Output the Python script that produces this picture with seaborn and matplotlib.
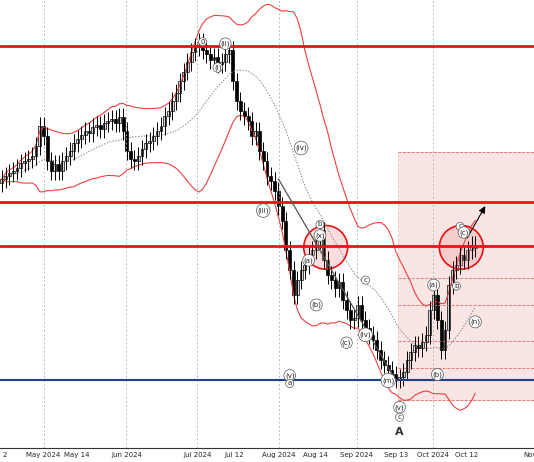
import numpy as np
import pandas as pd
import matplotlib
matplotlib.use("Agg")
import matplotlib.pyplot as plt
from matplotlib.patches import Ellipse, Rectangle
import seaborn as sns

sns.set_style("white")

# === Data (price units) ===
closes = [282, 285, 288, 290, 293, 298, 300, 302,
          305, 315, 335, 325, 300, 290, 297,
          290, 300, 305, 310, 318, 322,
          326, 330, 328, 334, 336, 332,
          338, 340, 342, 338, 344, 330,
          310, 302, 300, 305, 312,
          318, 320, 325, 330, 335, 345,
          350, 360, 368, 380, 390, 400,
          410, 415, 420, 412, 408, 402,
          405, 398, 400, 408, 412,
          380, 360, 350, 345, 340,
          325, 330, 310, 300, 285,
          280, 270, 255, 240, 210,
          190, 165, 180, 190,
          195, 205, 210, 220, 230,
          200, 185, 180, 172, 178,
          160, 150, 140, 142, 155,
          140, 132, 125, 120, 110,
          100, 95, 90, 85, 80,
          82, 88, 100, 108,
          115, 112, 118, 125,
          150, 165, 140, 110,
          130, 175, 190, 195, 205,
          200, 210, 215, 212]
first_open = 278
tick_pos = [0.8, 11, 19.7, 32.9, 51.6, 61.3, 73.2, 82.9, 93.7, 104, 113.7, 122.6, 139.5]
tick_labels = ["2", "May 2024", "May 14", "Jun 2024", "Jul 2024", "Jul 12", "Aug 2024",
               "Aug 14", "Sep 2024", "Sep 13", "Oct 2024", "Oct 12", "Nov"]
month_pos = [11, 32.9, 51.6, 73.2, 93.7, 113.7]
red_levels = [416, 259, 214]
blue_level = 79
zone_levels = [309, 259, 214, 182, 155, 119, 92, 59]

df = pd.DataFrame({"close": closes})
df["i"] = np.arange(len(df))
df["open"] = [first_open] + closes[:-1]
df["mid"] = df["close"].rolling(20, min_periods=1).mean()
sd = df["close"].rolling(20, min_periods=2).std().fillna(0)
df["upper"] = df["mid"] + 2 * sd
df["lower"] = df["mid"] - 2 * sd

fig = plt.figure(figsize=(5.34, 4.62), dpi=100)
bot = 14 / 462
ax = fig.add_axes([0, bot, 1, 1 - bot])

# zone
ax.add_patch(Rectangle((104.5, 59), 40, 250, facecolor="#f4c7c7", alpha=0.45, edgecolor="#e08080", lw=0.6, ls="--"))
for lv in zone_levels:
    ax.plot([104.5, 145], [lv, lv], color="#e07070", lw=0.6, ls="--")

for m in month_pos:
    ax.axvline(m, color="#aaaaaa", lw=0.6, ls=(0, (2, 3)))

# bands
sns.lineplot(data=df, x="i", y="upper", ax=ax, color="#f04040", lw=0.8)
sns.lineplot(data=df, x="i", y="lower", ax=ax, color="#f04040", lw=0.8)
sns.lineplot(data=df, x="i", y="mid", ax=ax, color="#888888", lw=0.7, ls=(0, (1.5, 1.5)))

# candles
for _, r in df.iterrows():
    lo, hi = min(r.open, r.close), max(r.open, r.close)
    ax.vlines(r.i, lo - 9, hi + 9, color="black", lw=0.7)
    up = r.close >= r.open
    ax.add_patch(Rectangle((r.i - 0.38, lo), 0.76, max(hi - lo, 1.2),
                           facecolor="#d8d8d8" if up else "black", edgecolor="black", lw=0.5))

for lv in red_levels:
    ax.axhline(lv, color="#ee1111", lw=2)
ax.axhline(blue_level, color="#1f3f8f", lw=1.5)

# trend line and circles
ax.plot([73, 104], [282, 79], color="#555555", lw=0.9)
for cx in (85.5, 121.3):
    ax.add_patch(Ellipse((cx, 213), 11.6, 44, facecolor="#f4a0a0", alpha=0.35, ec="none"))
    ax.add_patch(Ellipse((cx, 213), 11.6, 44, fill=False, ec="#ee1111", lw=1.2))
ax.annotate("", xy=(128, 257), xytext=(122.5, 220),
            arrowprops=dict(arrowstyle="-|>", color="black", lw=0.8))

labels = [(53, 420, "0"), (59, 418, "(ii)"), (57, 394, "(i)"), (79, 313, "(iv)"), (69, 250, "(iii)"),
          (76, 84, "(v)"), (76, 76, "a"), (84, 236, "b"), (84, 225, "(x)"), (81, 200, "(a)"),
          (83, 155, "(b)"), (96, 180, "c"), (91, 117, "(c)"), (102, 79, "(m)"), (105, 52, "(v)"),
          (105, 42, "c"), (96, 125, "(iv)"), (114, 175, "(a)"), (115, 85, "(b)"), (121, 234, "c"),
          (122, 228, "(c)"), (120, 174, "b"), (125, 138, "(n)")]
for x, y, t in labels:
    ax.text(x, y, t, fontsize=5, ha="center", va="center",
            bbox=dict(boxstyle="circle,pad=0.15", fc="white", ec="#555555", lw=0.5))
ax.text(105, 24, "A", fontsize=8, fontweight="bold", ha="center", color="#333333")

ax.set_xlim(-0.5, 140.5)
ax.set_ylim(11, 462)
ax.set_xlabel("")
ax.set_ylabel("")
ax.set_yticks([])
ax.set_xticks(tick_pos)
ax.set_xticklabels(tick_labels, fontsize=5)
ax.tick_params(axis="x", length=2, pad=1)
for s in ["top", "right", "left"]:
    ax.spines[s].set_visible(False)
ax.spines["bottom"].set_color("#333333")

fig.savefig("out.png", dpi=100)
